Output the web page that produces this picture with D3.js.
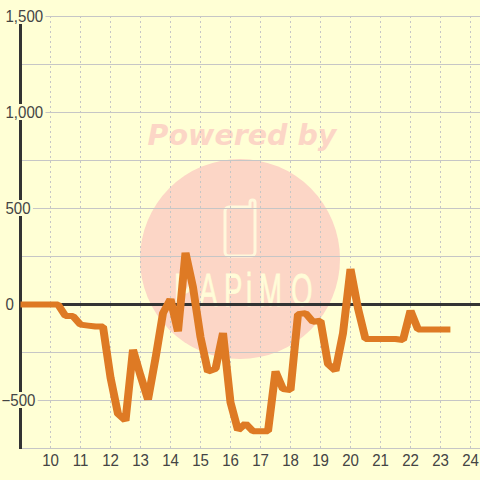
<!DOCTYPE html>
<html>
<head>
<meta charset="utf-8">
<script src="https://cdnjs.cloudflare.com/ajax/libs/d3/7.8.5/d3.min.js"></script>
<style>
html,body{margin:0;padding:0;background:#ffffd5;}
svg{display:block;}
text{font-family:"Liberation Sans",sans-serif;}
</style>
</head>
<body>
<div id="chart"></div>
<script>
// hours of the day, one reading every 15 minutes, last one cut short
var hours = [9,9.25,9.5,9.75,10,10.25,10.5,10.75,11,11.25,11.5,11.75,12,12.25,12.5,12.75,13,13.25,13.5,13.75,14,14.25,14.5,14.75,15,15.25,15.5,15.75,16,16.25,16.5,16.75,17,17.25,17.5,17.75,18,18.25,18.5,18.75,19,19.25,19.5,19.75,20,20.25,20.5,20.75,21,21.25,21.5,21.75,22,22.25,22.5,22.75,23,23.33];
var values = [0,0,0,0,0,0,-60,-60,-105,-110,-115,-115,-380,-570,-605,-235,-370,-495,-280,-45,28,-140,270,90,-170,-350,-335,-148,-510,-655,-620,-660,-660,-660,-348,-440,-445,-50,-45,-90,-85,-310,-345,-150,185,-20,-180,-180,-180,-180,-180,-185,-32,-130,-130,-130,-130,-130];
var xTicks = [10,11,12,13,14,15,16,17,18,19,20,21,22,23,24];
var yLabels = [1500,1000,500,0,-500];
var yGrid = [1500,1250,1000,750,500,250,-250,-500,-750];
var logoLeft = [174,199,224,246,259,291];

var width = 480, height = 480;
var bg = "#ffffd5";
var textScale = 0.94; // labels in the picture are a little narrow for their height
var logoScale = 0.6;
var lineStretch = 1.33; // the line is thicker across than along y

var x = d3.scaleLinear().domain([9,24]).range([20.5,470.5]);
var y = d3.scaleLinear().domain([1500,-750]).range([16.5,448.5]);

var svg = d3.select("#chart").append("svg")
.attr("width",width)
.attr("height",height);

// watermark
var mark = svg.append("g");
mark.append("circle")
.attr("cx",240).attr("cy",259).attr("r",100)
.attr("fill","#fcd6c6");
mark.append("text")
.attr("x",242).attr("y",145)
.attr("text-anchor","middle")
.attr("font-size",28.5)
.attr("font-weight","bold")
.attr("font-style","italic")
.style("font-family","'DejaVu Sans'")
.attr("fill","#fcd6c6")
.text("Powered by");
mark.append("path")
.attr("d","M232,207H250V202.5a2.5,2.5 0 0 1 5,0V252a4,4 0 0 1 -4,4H229a4,4 0 0 1 -4,-4V211a4,4 0 0 1 4,-4Z")
.attr("fill","none")
.attr("stroke","#fff8dc")
.attr("stroke-width",3);
mark.append("text")
.attr("transform","scale("+logoScale+",1)")
.attr("x",logoLeft.map(function(d){return d/logoScale;}).join(" "))
.attr("y",306)
.attr("font-size",46)
.attr("fill","#fffcd8")
.attr("stroke","#fffcd8")
.attr("stroke-width",0.8)
.text("PAPiMO");

// grid
svg.append("g").selectAll("line")
.data(yGrid)
.enter().append("line")
.attr("x1",20).attr("x2",480)
.attr("y1",function(d){return y(d);})
.attr("y2",function(d){return y(d);})
.attr("stroke","#c6c6c6")
.attr("stroke-width",1);

svg.append("g").selectAll("line")
.data(xTicks)
.enter().append("line")
.attr("x1",function(d){return x(d);})
.attr("x2",function(d){return x(d);})
.attr("y1",16).attr("y2",448)
.attr("stroke","#c6c6c6")
.attr("stroke-dasharray","2,3");

// axes
svg.append("line")
.attr("x1",20.5).attr("x2",20.5).attr("y1",16).attr("y2",449)
.attr("stroke","#333")
.attr("stroke-width",3);
svg.append("line")
.attr("x1",20).attr("x2",480).attr("y1",y(0)).attr("y2",y(0))
.attr("stroke","#333")
.attr("stroke-width",3);

// y labels sit on a background box that cuts the axis and the grid
var yl = svg.append("g").selectAll("g")
.data(yLabels)
.enter().append("g");
yl.append("text")
.attr("transform",function(d){
  return "translate("+(d<0 ? 1.5 : 5.5)+","+(y(d)+5.5)+") scale("+textScale+",1)";
})
.attr("font-size",16)
.attr("fill","#444")
.text(function(d){return d3.format(",")(d);});
yl.each(function(d){
  if (d===0) return;
  var g = d3.select(this);
  var b = g.select("text").node().getBoundingClientRect();
  g.insert("rect","text")
  .attr("x",b.left-2)
  .attr("y",y(d)-8.5)
  .attr("width",b.width+4)
  .attr("height",16)
  .attr("fill",bg);
});

// x labels
svg.append("g").selectAll("text")
.data(xTicks)
.enter().append("text")
.attr("transform",function(d){return "translate("+x(d)+",466) scale("+textScale+",1)";})
.attr("text-anchor","middle")
.attr("font-size",16)
.attr("fill","#444")
.text(function(d){return d;});

// series, drawn in a stretched group so the stroke gets wider across x
var line = d3.line()
.x(function(d,i){return x(hours[i])/lineStretch;})
.y(function(d){return y(d);});

svg.append("g")
.attr("transform","scale("+lineStretch+",1)")
.append("path")
.datum(values)
.attr("d",line)
.attr("fill","none")
.attr("stroke","#de7a24")
.attr("stroke-width",6)
.attr("stroke-linejoin","bevel");
</script>
</body>
</html>
